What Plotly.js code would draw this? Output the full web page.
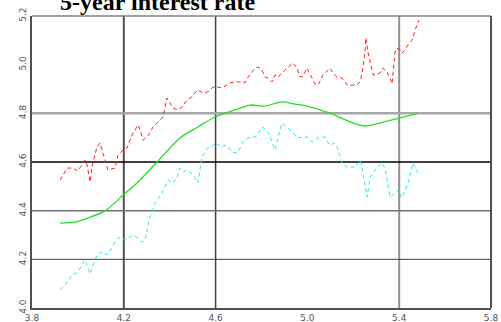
<!DOCTYPE html>
<html><head><meta charset="utf-8">
<script src="https://cdn.plot.ly/plotly-3.0.1.min.js"></script>
<style>html,body{margin:0;padding:0;background:#fff;}#chart{width:501px;height:322px;}</style>
</head><body><div id="chart"></div>
<script>
// Red (upper) series
const redX = [3.922,3.953,3.979,4.000,4.031,4.040,4.053,4.061,4.083,4.096,4.118,4.131,4.162,4.175,4.197,4.214,4.236,4.249,4.262,4.271,4.284,4.301,4.314,4.327,4.345,4.371,4.388,4.401,4.414,4.436,4.454,4.475,4.497,4.510,4.523,4.545,4.567,4.589,4.610,4.628,4.650,4.663,4.685,4.715,4.728,4.741,4.759,4.772,4.785,4.802,4.815,4.828,4.846,4.859,4.872,4.902,4.937,4.955,4.968,4.981,4.998,5.020,5.033,5.046,5.068,5.098,5.112,5.129,5.151,5.164,5.173,5.194,5.216,5.229,5.238,5.251,5.255,5.264,5.273,5.286,5.295,5.316,5.329,5.347,5.360,5.369,5.373,5.382,5.390,5.404,5.412,5.425,5.438,5.456,5.469,5.486];
const redY = [4.526,4.575,4.575,4.563,4.608,4.588,4.518,4.579,4.662,4.678,4.608,4.567,4.575,4.629,4.649,4.657,4.711,4.731,4.752,4.731,4.690,4.703,4.719,4.744,4.760,4.785,4.863,4.842,4.822,4.814,4.826,4.855,4.867,4.884,4.896,4.884,4.888,4.908,4.908,4.904,4.916,4.925,4.929,4.929,4.925,4.949,4.970,4.986,4.990,4.978,4.949,4.945,4.929,4.958,4.949,4.978,5.007,4.986,4.949,4.953,4.986,4.949,4.921,4.916,4.958,4.986,4.966,4.949,4.945,4.929,4.916,4.916,4.916,4.929,4.966,5.052,5.110,5.052,5.011,4.958,4.958,4.966,4.986,4.970,4.945,4.921,4.966,5.052,5.068,5.060,5.048,5.060,5.081,5.101,5.142,5.184];

// Cyan (lower) series
const cyanX = [3.922,3.944,3.974,4.000,4.031,4.053,4.083,4.105,4.127,4.149,4.175,4.192,4.205,4.227,4.240,4.262,4.279,4.292,4.314,4.336,4.366,4.393,4.414,4.432,4.445,4.458,4.475,4.488,4.502,4.523,4.541,4.563,4.584,4.597,4.610,4.628,4.641,4.654,4.676,4.698,4.719,4.741,4.772,4.802,4.807,4.828,4.837,4.859,4.872,4.889,4.915,4.946,4.959,4.976,4.998,5.020,5.033,5.046,5.077,5.090,5.098,5.120,5.129,5.151,5.173,5.207,5.229,5.238,5.260,5.273,5.303,5.325,5.338,5.360,5.390,5.395,5.412,5.438,5.460,5.482];
const cyanY = [4.074,4.094,4.135,4.148,4.197,4.140,4.218,4.230,4.218,4.251,4.288,4.288,4.279,4.292,4.300,4.288,4.271,4.279,4.374,4.431,4.472,4.526,4.514,4.538,4.575,4.559,4.567,4.559,4.547,4.514,4.620,4.657,4.662,4.678,4.670,4.662,4.670,4.662,4.637,4.641,4.682,4.699,4.703,4.740,4.744,4.723,4.699,4.649,4.699,4.760,4.740,4.711,4.699,4.703,4.703,4.682,4.690,4.699,4.703,4.678,4.670,4.678,4.662,4.596,4.579,4.579,4.608,4.579,4.456,4.538,4.579,4.596,4.575,4.456,4.477,4.485,4.452,4.514,4.596,4.555];

// Green (smooth) series
const greenX = [3.922,3.987,4.044,4.118,4.197,4.262,4.345,4.445,4.523,4.597,4.685,4.750,4.815,4.889,4.946,4.998,5.098,5.199,5.251,5.316,5.404,5.482];
const greenY = [4.349,4.353,4.370,4.399,4.464,4.518,4.600,4.699,4.744,4.785,4.814,4.834,4.830,4.847,4.838,4.830,4.801,4.760,4.748,4.760,4.781,4.801];

const xTicks = [3.8,4.2,4.6,5.0,5.4,5.8];
const yTicks = [4.0,4.2,4.4,4.6,4.8,5.0,5.2];
const titleText = '5-year interest rate';

// grid line styling (per tick, interior only)
const xGridStyle = {4.2:['#505050',2], 4.6:['#404040',1.5], 5.0:['#505050',1], 5.4:['#909090',2]};
const yGridStyle = {4.2:['#404040',1], 4.4:['#707070',1.5], 4.6:['#000000',1.5], 4.8:['#a8a8a8',2.5], 5.0:['#505050',1]};

const shapes = [];
xTicks.forEach(v => { const s = xGridStyle[v.toFixed(1)]; if (s) shapes.push({type:'line', xref:'x', yref:'paper', x0:v, x1:v, y0:0, y1:1, layer:'below', line:{color:s[0], width:s[1]}}); });
yTicks.forEach(v => { const s = yGridStyle[v.toFixed(1)]; if (s) shapes.push({type:'line', xref:'paper', yref:'y', x0:0, x1:1, y0:v, y1:v, layer:'below', line:{color:s[0], width:s[1]}}); });
// top and right borders
shapes.push({type:'line', xref:'paper', yref:'paper', x0:0, x1:1, y0:1, y1:1, line:{color:'#808080', width:1.5}});
shapes.push({type:'line', xref:'paper', yref:'paper', x0:1, x1:1, y0:0, y1:1, line:{color:'#505050', width:2}});

const traces = [
  {x: redX, y: redY, mode:'lines', line:{color:'#ff2020', width:1, dash:'4px,3px'}, hoverinfo:'none'},
  {x: greenX, y: greenY, mode:'lines', line:{color:'#22e022', width:1.3, shape:'spline', smoothing:0.8}, hoverinfo:'none'},
  {x: cyanX, y: cyanY, mode:'lines', line:{color:'#22eeee', width:1, dash:'4px,3px'}, hoverinfo:'none'}
];

const tickFont = {family:'DejaVu Sans, sans-serif', size:9, color:'#555'};
const layout = {
  width:501, height:322,
  margin:{l:32, r:10, t:16, b:14, pad:0},
  paper_bgcolor:'#fff', plot_bgcolor:'#fff',
  showlegend:false,
  title:{text:'<b>'+titleText+'</b>', font:{family:'Liberation Serif, Times New Roman, serif', size:24, color:'#000'}, xref:'container', x:0.12, xanchor:'left', yref:'container', y:0.995, yanchor:'middle'},
  xaxis:{range:[3.8,5.8], tickvals:xTicks, ticktext:xTicks.map(v=>v.toFixed(1)), showgrid:false, zeroline:false, showline:true, mirror:false, linecolor:'#505050', linewidth:2, ticks:'', tickfont:tickFont},
  yaxis:{range:[4.0,5.2], tickvals:yTicks, ticktext:yTicks.map(v=>v.toFixed(1)), tickangle:-90, showgrid:false, zeroline:false, showline:true, mirror:false, linecolor:'#505050', linewidth:2, ticks:'', tickfont:tickFont},
  shapes: shapes
};

Plotly.newPlot('chart', traces, layout, {staticPlot:true, displayModeBar:false});
</script>
</body></html>
